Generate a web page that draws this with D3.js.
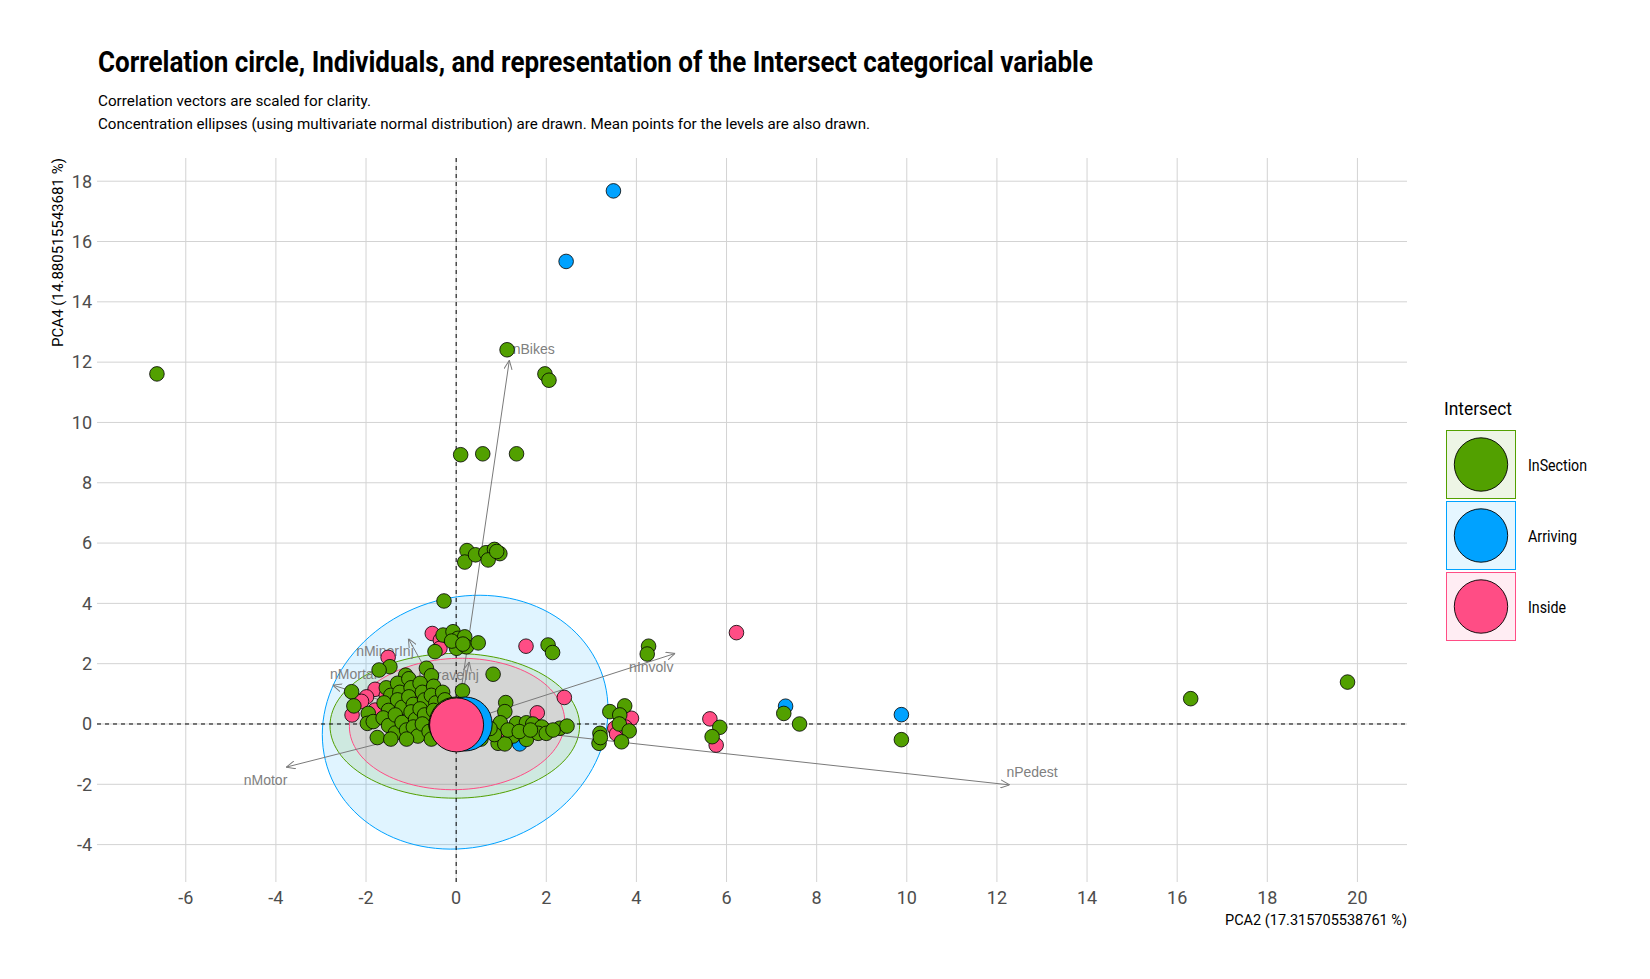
<!DOCTYPE html>
<html>
<head>
<meta charset="utf-8">
<script src="https://cdn.jsdelivr.net/npm/d3@7"></script>
<style>
  html, body { margin: 0; padding: 0; background: #ffffff; }
  svg { display: block; font-family: Roboto, "Liberation Sans", sans-serif; }
</style>
</head>
<body>
<svg id="chart" width="1650" height="979"></svg>
<script>
// ---------------- DATA ----------------
const levels = ["InSection", "Arriving", "Inside"];
const levelColors = ["#52A000", "#00A2FF", "#FF4D85"];

const xTicks = [-6, -4, -2, 0, 2, 4, 6, 8, 10, 12, 14, 16, 18, 20];
const yTicks = [-4, -2, 0, 2, 4, 6, 8, 10, 12, 14, 16, 18];

// individuals, level InSection
const inSectionPts = [
  [-6.64,11.61],[1.13,12.41],[1.97,11.61],[2.06,11.40],[0.10,8.93],[0.59,8.96],[1.34,8.96],
  [0.24,5.75],[0.19,5.37],[0.43,5.61],[0.66,5.68],[0.85,5.79],[0.97,5.65],[0.71,5.44],[0.90,5.72],
  [-0.27,4.08],
  [-0.29,2.95],[-0.07,3.06],[0.04,2.84],[0.19,2.89],[0.01,2.51],[0.23,2.56],[0.49,2.69],[-0.47,2.40],[-0.10,2.75],[0.15,2.65],
  [2.04,2.62],[2.14,2.37],[4.27,2.58],[4.24,2.32],
  [-1.47,1.90],[-1.71,1.79],[-1.12,1.62],[-0.66,1.85],[-0.55,1.60],[0.82,1.65],[0.14,1.10],
  [-2.32,1.07],[-2.27,0.60],[-1.95,0.35],[-1.97,0.02],[-1.84,0.08],
  [-1.55,1.20],[-1.45,0.95],[-1.60,0.70],[-1.50,0.45],[-1.62,0.20],[-1.50,-0.05],[-1.35,-0.30],
  [-1.30,1.35],[-1.25,1.05],[-1.30,0.80],[-1.20,0.55],[-1.35,0.30],[-1.20,0.05],[-1.10,-0.20],
  [-1.05,1.50],[-1.00,1.20],[-1.05,0.90],[-0.95,0.65],[-1.00,0.40],[-0.90,0.15],[-0.95,-0.10],[-0.85,-0.40],
  [-0.80,1.35],[-0.75,1.05],[-0.70,0.80],[-0.80,0.50],[-0.70,0.30],[-0.75,0.00],[-0.60,-0.25],
  [-0.50,1.25],[-0.55,0.95],[-0.45,0.70],[-0.50,0.45],[-0.40,0.20],[-0.45,-0.05],[-0.35,-0.30],
  [-0.30,1.05],[-0.25,0.80],[-0.20,0.55],[-1.75,-0.45],[-1.45,-0.50],[-0.55,-0.50],[-0.15,0.35],
  [-1.10,-0.50],[-0.20,-0.45],
  [1.10,0.71],[1.08,0.41],[0.98,0.04],[1.34,0.02],[1.56,0.04],[1.70,0.00],[1.90,-0.10],[2.30,-0.14],[2.46,-0.07],
  [1.26,-0.40],[1.56,-0.51],[1.82,-0.31],[0.93,-0.64],[1.08,-0.66],[2.00,-0.31],[1.15,-0.20],[1.40,-0.25],
  [1.65,-0.20],[0.85,-0.35],[2.15,-0.20],[0.75,-0.15],[0.55,-0.50],
  [3.41,0.41],[3.74,0.60],[3.63,0.30],[3.62,0.00],[3.84,-0.23],[3.19,-0.31],[3.17,-0.64],[3.67,-0.59],[3.20,-0.45],
  [5.85,-0.11],[5.68,-0.42],[7.27,0.35],[7.62,0.00],[9.88,-0.52],[16.30,0.84],[19.78,1.39]
];
// individuals, level Arriving
const arrivingPts = [
  [3.49,17.68],[2.44,15.34],[0.76,5.68],[7.31,0.59],[9.88,0.31],[1.41,-0.66],[-0.50,0.85]
];
// individuals, level Inside
const insidePts = [
  [-0.53,3.00],[-0.35,2.78],[-0.36,2.51],[1.55,2.58],[6.22,3.03],[-1.51,2.21],
  [-1.80,1.15],[-1.99,0.90],[-2.31,0.30],[-1.80,0.46],[-2.10,0.75],
  [2.40,0.88],[1.80,0.37],[0.93,-0.25],
  [3.89,0.19],[3.52,-0.14],[3.56,-0.33],[3.75,-0.10],[5.63,0.17],[5.77,-0.70],
  [-1.30,0.50],[-0.90,1.00],[-0.60,0.60],[-0.30,0.25],[-1.55,0.95]
];

// mean points of the levels
const meanX = [0.00, 0.20, 0.01];
const meanY = [0.00, 0.00, -0.03];

// concentration ellipses: centre and scaled covariance (varX, varY, covXY)
const ellCx = [-0.03, 0.20, 0.02];
const ellCy = [-0.06, 0.06, 0.00];
const ellVarX = [7.67, 10.05, 5.71];
const ellVarY = [5.76, 17.72, 4.75];
const ellCov  = [0.00, 1.30, 0.20];
const ellipseOrder = [1, 0, 2];

// correlation vectors (scaled)
const varNames = ["nBikes", "nPedest", "nMotor", "nInvolv", "nMinorInj", "nMortal", "nGraveInj"];
const varX = [1.18, 12.28, -3.77, 4.86, -1.06, -2.74, 0.29];
const varY = [12.06, -2.02, -1.43, 2.34, 2.83, 1.29, 2.06];
const varLabelX = [1.72, 12.78, -4.23, 4.33, -1.58, -2.28, -0.17];
const varLabelY = [12.45, -1.60, -1.85, 1.88, 2.41, 1.67, 1.64];

const titleText = "Correlation circle, Individuals, and representation of the Intersect categorical variable";
const subtitleLines = [
  "Correlation vectors are scaled for clarity.",
  "Concentration ellipses (using multivariate normal distribution) are drawn. Mean points for the levels are also drawn."
];
const xTitle = "PCA2 (17.315705538761 %)";
const yTitle = "PCA4 (14.880515543681 %)";
const legendTitle = "Intersect";

// ---------------- DRAW ----------------
const svg = d3.select("#chart");
const panel = {left: 97, right: 1407, top: 158, bottom: 882};
const x = d3.scaleLinear().domain([-7.97, 21.1]).range([panel.left, panel.right]);
const y = d3.scaleLinear().domain([-5.24, 18.77]).range([panel.bottom, panel.top]);

// titles
svg.append("text").attr("x", 98).attr("y", 71.5)
  .attr("font-size", 29).attr("font-weight", 700).attr("fill", "#000")
  .attr("textLength", 995).attr("lengthAdjust", "spacingAndGlyphs")
  .text(titleText);
const subLens = [273, 772];
subtitleLines.forEach((s, i) => {
  svg.append("text").attr("x", 98).attr("y", 106 + i * 22.5)
    .attr("font-size", 15).attr("fill", "#000")
    .attr("textLength", subLens[i]).attr("lengthAdjust", "spacingAndGlyphs")
    .text(s);
});

// grid
const grid = svg.append("g");
grid.selectAll("line.gx").data(xTicks).join("line")
  .attr("x1", d => x(d)).attr("x2", d => x(d))
  .attr("y1", panel.top).attr("y2", panel.bottom)
  .attr("stroke", "#d3d3d3").attr("stroke-width", 1);
grid.selectAll("line.gy").data(yTicks).join("line")
  .attr("class", "gy")
  .attr("x1", panel.left).attr("x2", panel.right)
  .attr("y1", d => y(d)).attr("y2", d => y(d))
  .attr("stroke", "#d3d3d3").attr("stroke-width", 1);

// axes tick labels
svg.append("g").selectAll("text").data(xTicks).join("text")
  .attr("x", d => x(d)).attr("y", 903.5)
  .attr("text-anchor", "middle").attr("font-size", 18).attr("fill", "#4d4d4d")
  .text(d => d);
svg.append("g").selectAll("text").data(yTicks).join("text")
  .attr("x", 92).attr("y", d => y(d) + 6.3)
  .attr("text-anchor", "end").attr("font-size", 18).attr("fill", "#4d4d4d")
  .text(d => d);

// axis titles
svg.append("text").attr("x", 1407).attr("y", 925)
  .attr("text-anchor", "end").attr("font-size", 14.5).attr("fill", "#000")
  .attr("textLength", 182).attr("lengthAdjust", "spacingAndGlyphs")
  .text(xTitle);
svg.append("text").attr("transform", "translate(63,158) rotate(-90)")
  .attr("text-anchor", "end").attr("font-size", 14.5).attr("fill", "#000")
  .attr("textLength", 189).attr("lengthAdjust", "spacingAndGlyphs")
  .text(yTitle);

// ellipses
const tVals = d3.range(0, 361, 3).map(a => a * Math.PI / 180);
const ellG = svg.append("g");
ellipseOrder.forEach(i => {
  const a = Math.sqrt(ellVarX[i]);
  const c = ellCov[i] / a;
  const b = Math.sqrt(ellVarY[i] - c * c);
  const pts = tVals.map(t => [x(ellCx[i] + a * Math.cos(t)), y(ellCy[i] + c * Math.cos(t) + b * Math.sin(t))]);
  ellG.append("path")
    .attr("d", d3.line()(pts) + "Z")
    .attr("fill", levelColors[i]).attr("fill-opacity", 0.12)
    .attr("stroke", levelColors[i]).attr("stroke-width", 1);
});

// zero lines
svg.append("line").attr("x1", x(0)).attr("x2", x(0)).attr("y1", panel.top).attr("y2", panel.bottom)
  .attr("stroke", "#000").attr("stroke-width", 1).attr("stroke-dasharray", "4,4");
svg.append("line").attr("x1", panel.left).attr("x2", panel.right).attr("y1", y(0)).attr("y2", y(0))
  .attr("stroke", "#000").attr("stroke-width", 1).attr("stroke-dasharray", "4,4");

// arrow marker
svg.append("defs").append("marker")
  .attr("id", "arr").attr("viewBox", "0 0 10 10").attr("refX", 10).attr("refY", 5)
  .attr("markerWidth", 9).attr("markerHeight", 9).attr("markerUnits", "userSpaceOnUse")
  .attr("orient", "auto")
  .append("path").attr("d", "M0,0.5 L10,5 L0,9.5").attr("fill", "none")
  .attr("stroke", "#7a7a7a").attr("stroke-width", 1.1);

// vectors
const vg = svg.append("g");
varNames.forEach((n, i) => {
  vg.append("line").attr("x1", x(0)).attr("y1", y(0)).attr("x2", x(varX[i])).attr("y2", y(varY[i]))
    .attr("stroke", "#7a7a7a").attr("stroke-width", 1).attr("marker-end", "url(#arr)");
  vg.append("text").attr("x", x(varLabelX[i])).attr("y", y(varLabelY[i]))
    .attr("text-anchor", "middle").attr("dominant-baseline", "central")
    .attr("font-family", "'Liberation Sans', Arial, sans-serif")
    .attr("font-size", 14).attr("fill", "#808080").text(n);
});

// individuals (Inside and Arriving drawn under InSection)
const pg = svg.append("g");
[[insidePts, 2], [arrivingPts, 1], [inSectionPts, 0]].forEach(([pts, li]) => {
  pg.selectAll(null).data(pts).join("circle")
    .attr("cx", d => x(d[0])).attr("cy", d => y(d[1])).attr("r", 7.3)
    .attr("fill", levelColors[li]).attr("stroke", "#000").attr("stroke-width", 0.8);
});

// means
svg.append("g").selectAll("circle").data(levels).join("circle")
  .attr("cx", (d, i) => x(meanX[i])).attr("cy", (d, i) => y(meanY[i])).attr("r", 27)
  .attr("fill", (d, i) => levelColors[i]).attr("stroke", "#000").attr("stroke-width", 0.9);

// legend
const lg = svg.append("g");
lg.append("text").attr("x", 1444).attr("y", 415).attr("font-size", 18.5).attr("fill", "#000")
  .attr("textLength", 68).attr("lengthAdjust", "spacingAndGlyphs").text(legendTitle);
const labLens = [59, 49, 38];
levels.forEach((lv, i) => {
  const top = 430 + i * 71;
  lg.append("rect").attr("x", 1446.5).attr("y", top + 0.5).attr("width", 69).attr("height", 68)
    .attr("fill", levelColors[i]).attr("fill-opacity", 0.1)
    .attr("stroke", levelColors[i]).attr("stroke-width", 1);
  lg.append("circle").attr("cx", 1481).attr("cy", top + 34.5).attr("r", 26.7)
    .attr("fill", levelColors[i]).attr("stroke", "#000").attr("stroke-width", 0.9);
  lg.append("text").attr("x", 1528).attr("y", top + 40.5).attr("font-size", 17).attr("fill", "#000")
    .attr("textLength", labLens[i]).attr("lengthAdjust", "spacingAndGlyphs").text(lv);
});
</script>
</body>
</html>
